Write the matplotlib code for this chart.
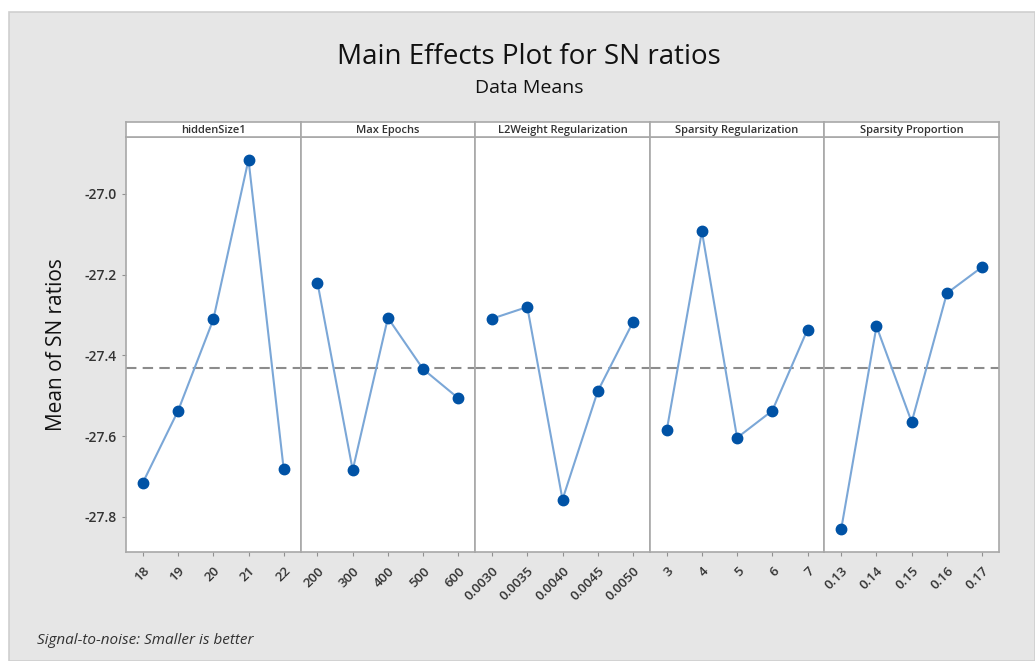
import matplotlib.pyplot as plt
import matplotlib.patches as mpatches
import numpy as np

plt.rcParams['font.family'] = ['Open Sans', 'DejaVu Sans']

factors = ['hiddenSize1', 'Max Epochs', 'L2Weight Regularization',
           'Sparsity Regularization', 'Sparsity Proportion']
levels = [
    ['18', '19', '20', '21', '22'],
    ['200', '300', '400', '500', '600'],
    ['0.0030', '0.0035', '0.0040', '0.0045', '0.0050'],
    ['3', '4', '5', '6', '7'],
    ['0.13', '0.14', '0.15', '0.16', '0.17'],
]
means = [
    [-27.715, -27.537, -27.311, -26.915, -27.682],
    [-27.220, -27.684, -27.307, -27.434, -27.506],
    [-27.309, -27.280, -27.757, -27.489, -27.318],
    [-27.586, -27.093, -27.604, -27.537, -27.336],
    [-27.829, -27.328, -27.565, -27.246, -27.181],
]
grand_mean = -27.431
yticks = [-27.8, -27.6, -27.4, -27.2, -27.0]

W, H = 1035, 661
fig = plt.figure(figsize=(W / 100, H / 100), dpi=100)
fig.patch.set_facecolor('white')

# gray background frame
bg = mpatches.Rectangle((9 / W, 0), 1 - 9 / W, 1 - 12 / H, transform=fig.transFigure,
                        facecolor='#e6e6e6', edgecolor='#cfcfcf', linewidth=1.2, zorder=-10)
fig.patches.append(bg)

left, right = 126, 999
top, bottom = 137, 552
strip_top = 122
pw = (right - left) / 5
frame_col = '#a8a8a8'

axes = []
for i in range(5):
    x0 = (left + i * pw) / W
    ax = fig.add_axes([x0, (H - bottom) / H, pw / W, (bottom - top) / H])
    ax.set_facecolor('white')
    xs = np.arange(1, 6)
    ax.axhline(grand_mean, color='#8c8c8c', linestyle=(0, (5, 3)), linewidth=1.5, zorder=1)
    ax.plot(xs, means[i], color='#7ba7d7', linewidth=1.5, zorder=2)
    ax.plot(xs, means[i], 'o', color='#0052a5', markersize=7.5, zorder=3)
    ax.set_xlim(0.52, 5.48)
    ax.set_ylim(-27.887, -26.859)
    ax.set_xticks(xs)
    ax.set_xticklabels(levels[i], rotation=45, ha='right', rotation_mode='anchor',
                       fontsize=9.5, color='#333333', fontweight='semibold')
    ax.tick_params(axis='x', length=3, color='#909090', pad=6)
    for s in ax.spines.values():
        s.set_color(frame_col)
        s.set_linewidth(1.2)
    if i == 0:
        ax.set_yticks(yticks)
        ax.set_yticklabels(['%.1f' % v for v in yticks], fontsize=10, color='#333333',
                           fontweight='semibold')
        ax.tick_params(axis='y', length=3, color='#909090', pad=4)
        ax.set_ylabel('Mean of SN ratios', fontsize=15, color='#111111', labelpad=12)
    else:
        ax.set_yticks([])
    # strip
    sax = fig.add_axes([x0, (H - top) / H, pw / W, (top - strip_top) / H])
    sax.set_facecolor('white')
    sax.set_xticks([])
    sax.set_yticks([])
    for s in sax.spines.values():
        s.set_color(frame_col)
        s.set_linewidth(1.2)
    sax.text(0.5, 0.45, factors[i], ha='center', va='center', fontsize=8,
             color='#333333', fontweight='semibold', transform=sax.transAxes)
    axes.append(ax)

fig.text(529 / W, 1 - 57 / H, 'Main Effects Plot for SN ratios', ha='center', va='center',
         fontsize=20, color='#111111')
fig.text(529 / W, 1 - 88 / H, 'Data Means', ha='center', va='center',
         fontsize=14, color='#111111')
fig.text(37 / W, 1 - 640 / H, 'Signal-to-noise: Smaller is better', ha='left', va='center',
         fontsize=11, style='italic', color='#333333')

fig.savefig('out.png', dpi=100, facecolor=fig.get_facecolor())
